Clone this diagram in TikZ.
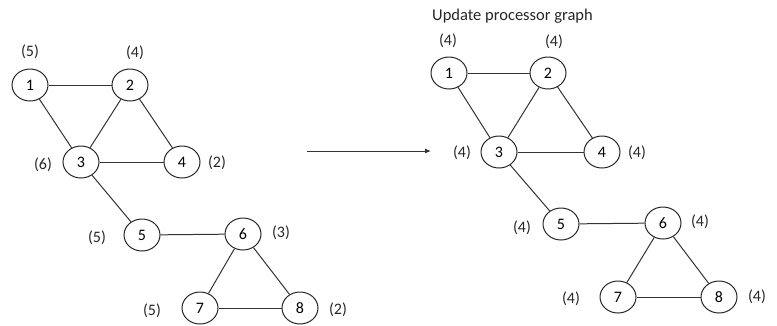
\documentclass[tikz,border=0pt]{standalone}
\usepackage{fontspec}
\setmainfont{Carlito}
\usetikzlibrary{arrows.meta,shapes.geometric}
\begin{document}
\begin{tikzpicture}[x=1pt,y=-1pt,
  proc/.style={draw=black!85,ellipse,minimum width=36pt,minimum height=32pt,inner sep=0pt,font=\fontsize{16}{16}\selectfont,line width=1pt},
  wt/.style={font=\fontsize{16}{16}\selectfont,text=black!85,inner sep=0pt},
  link/.style={draw=black!80,line width=1pt}]
\useasboundingbox (0,0) rectangle (777,325);
% load before the update
\node[proc] (a1) at (30,85) {1};
\node[proc] (a2) at (130,85) {2};
\node[proc] (a3) at (81,162) {3};
\node[proc] (a4) at (182,162) {4};
\node[proc] (a5) at (142,235) {5};
\node[proc] (a6) at (243,234) {6};
\node[proc] (a7) at (200,308) {7};
\node[proc] (a8) at (300,308) {8};
\node[wt] (wa1) at (30,52) {(5)};
\node[wt] (wa2) at (135,53) {(4)};
\node[wt] (wa3) at (43,165) {(6)};
\node[wt] (wa4) at (217,163) {(2)};
\node[wt] (wa5) at (97,238) {(5)};
\node[wt] (wa6) at (281,233) {(3)};
\node[wt] (wa7) at (152,311) {(5)};
\node[wt] (wa8) at (338,310) {(2)};
\draw[link] (a1) -- (a2);
\draw[link] (a1) -- (a3);
\draw[link] (a2) -- (a3);
\draw[link] (a2) -- (a4);
\draw[link] (a3) -- (a4);
\draw[link] (a3) -- (a5);
\draw[link] (a5) -- (a6);
\draw[link] (a6) -- (a7);
\draw[link] (a6) -- (a8);
\draw[link] (a7) -- (a8);
% transition arrow
\coordinate (s) at (307,151);
\coordinate (t) at (431,151);
\draw[link,-{Latex[length=6pt,width=5pt]}] (s) -- (t);
% load after the update
\node[wt,anchor=west,font=\fontsize{16.5}{16.5}\selectfont] (title) at (432,16) {Update processor graph};
\node[proc] (b1) at (449,73) {1};
\node[proc] (b2) at (548,73) {2};
\node[proc] (b3) at (499,152) {3};
\node[proc] (b4) at (602,152) {4};
\node[proc] (b5) at (561,224) {5};
\node[proc] (b6) at (663,223) {6};
\node[proc] (b7) at (618,297) {7};
\node[proc] (b8) at (719,297) {8};
\node[wt] (wb1) at (448,41) {(4)};
\node[wt] (wb2) at (554,42) {(4)};
\node[wt] (wb3) at (462,153) {(4)};
\node[wt] (wb4) at (637,153) {(4)};
\node[wt] (wb5) at (522,228) {(4)};
\node[wt] (wb6) at (700,222) {(4)};
\node[wt] (wb7) at (571,299) {(4)};
\node[wt] (wb8) at (757,297) {(4)};
\draw[link] (b1) -- (b2);
\draw[link] (b1) -- (b3);
\draw[link] (b2) -- (b3);
\draw[link] (b2) -- (b4);
\draw[link] (b3) -- (b4);
\draw[link] (b3) -- (b5);
\draw[link] (b5) -- (b6);
\draw[link] (b6) -- (b7);
\draw[link] (b6) -- (b8);
\draw[link] (b7) -- (b8);
\end{tikzpicture}
\end{document}
